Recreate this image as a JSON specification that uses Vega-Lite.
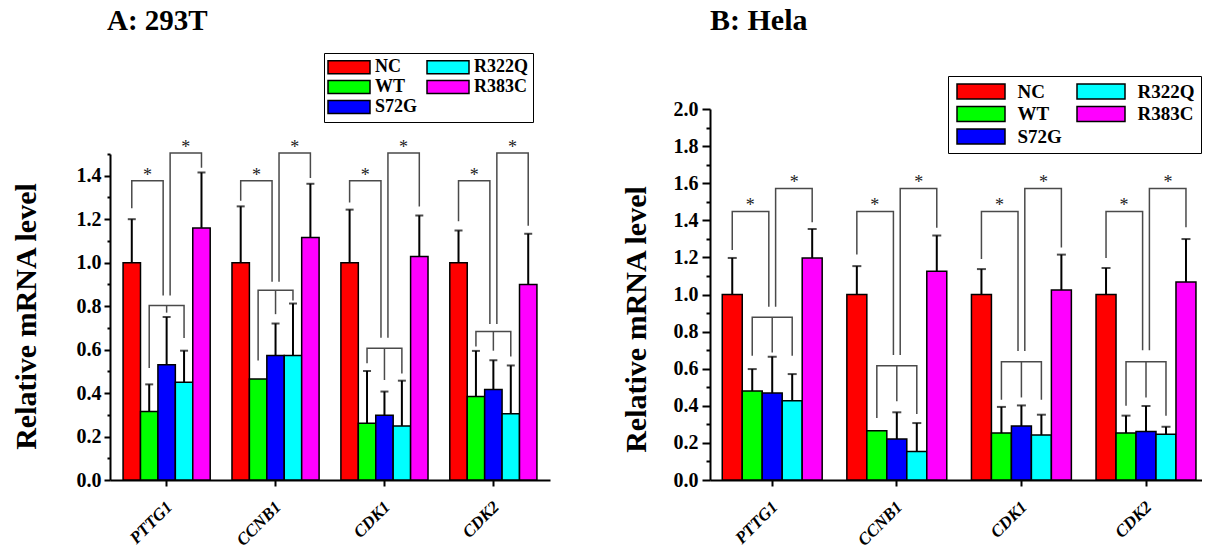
{
"$schema":"https://vega.github.io/schema/vega-lite/v6.json",
"padding":{"left":11,"top":6,"right":0,"bottom":0},
"config":{"view":{"stroke":null},"font":"Liberation Serif",
 "axis":{"domainColor":"black","domainWidth":2,"tickColor":"black","tickWidth":2,"labelColor":"black","labelFont":"Liberation Serif","labelFontWeight":"bold","titleFont":"Liberation Serif","titleFontWeight":"bold","titleColor":"black","grid":false,"labelOverlap":false},
 "legend":{"labelFont":"Liberation Serif","labelFontWeight":"bold","labelColor":"black"}},
"datasets":{
"barsA":[
{"gene":"PTTG1","grp":"NC","v":1.0,"hi":1.2},{"gene":"PTTG1","grp":"WT","v":0.315,"hi":0.44},{"gene":"PTTG1","grp":"S72G","v":0.53,"hi":0.75},{"gene":"PTTG1","grp":"R322Q","v":0.45,"hi":0.595},{"gene":"PTTG1","grp":"R383C","v":1.16,"hi":1.415},
{"gene":"CCNB1","grp":"NC","v":1.0,"hi":1.259},{"gene":"CCNB1","grp":"WT","v":0.465,"hi":null},{"gene":"CCNB1","grp":"S72G","v":0.573,"hi":0.72},{"gene":"CCNB1","grp":"R322Q","v":0.573,"hi":0.812},{"gene":"CCNB1","grp":"R383C","v":1.116,"hi":1.363},
{"gene":"CDK1","grp":"NC","v":1.0,"hi":1.244},{"gene":"CDK1","grp":"WT","v":0.261,"hi":0.502},{"gene":"CDK1","grp":"S72G","v":0.298,"hi":0.407},{"gene":"CDK1","grp":"R322Q","v":0.249,"hi":0.457},{"gene":"CDK1","grp":"R383C","v":1.028,"hi":1.217},
{"gene":"CDK2","grp":"NC","v":1.0,"hi":1.148},{"gene":"CDK2","grp":"WT","v":0.384,"hi":0.594},{"gene":"CDK2","grp":"S72G","v":0.416,"hi":0.551},{"gene":"CDK2","grp":"R322Q","v":0.305,"hi":0.527},{"gene":"CDK2","grp":"R383C","v":0.9,"hi":1.133}],
"barsB":[
{"gene":"PTTG1","grp":"NC","v":1.0,"hi":1.197},{"gene":"PTTG1","grp":"WT","v":0.48,"hi":0.598},{"gene":"PTTG1","grp":"S72G","v":0.469,"hi":0.665},{"gene":"PTTG1","grp":"R322Q","v":0.427,"hi":0.571},{"gene":"PTTG1","grp":"R383C","v":1.197,"hi":1.353},
{"gene":"CCNB1","grp":"NC","v":1.0,"hi":1.153},{"gene":"CCNB1","grp":"WT","v":0.266,"hi":null},{"gene":"CCNB1","grp":"S72G","v":0.221,"hi":0.365},{"gene":"CCNB1","grp":"R322Q","v":0.154,"hi":0.307},{"gene":"CCNB1","grp":"R383C","v":1.125,"hi":1.318},
{"gene":"CDK1","grp":"NC","v":1.0,"hi":1.137},{"gene":"CDK1","grp":"WT","v":0.253,"hi":0.394},{"gene":"CDK1","grp":"S72G","v":0.291,"hi":0.402},{"gene":"CDK1","grp":"R322Q","v":0.243,"hi":0.352},{"gene":"CDK1","grp":"R383C","v":1.024,"hi":1.215},
{"gene":"CDK2","grp":"NC","v":1.0,"hi":1.143},{"gene":"CDK2","grp":"WT","v":0.253,"hi":0.347},{"gene":"CDK2","grp":"S72G","v":0.262,"hi":0.399},{"gene":"CDK2","grp":"R322Q","v":0.246,"hi":0.287},{"gene":"CDK2","grp":"R383C","v":1.067,"hi":1.299}],
"brA":[
{"gene":"PTTG1","id":"b1","o":1,"s":0.5,"v":1.25},{"gene":"PTTG1","id":"b1","o":2,"s":0.5,"v":1.377},{"gene":"PTTG1","id":"b1","o":3,"s":2.3,"v":1.377},{"gene":"PTTG1","id":"b1","o":4,"s":2.3,"v":0.849},
{"gene":"PTTG1","id":"b2","o":1,"s":2.7,"v":0.849},{"gene":"PTTG1","id":"b2","o":2,"s":2.7,"v":1.505},{"gene":"PTTG1","id":"b2","o":3,"s":4.5,"v":1.505},{"gene":"PTTG1","id":"b2","o":4,"s":4.5,"v":1.437},
{"gene":"PTTG1","id":"lw","o":1,"s":1.5,"v":0.515},{"gene":"PTTG1","id":"lw","o":2,"s":1.5,"v":0.803},{"gene":"PTTG1","id":"lw","o":3,"s":3.5,"v":0.803},{"gene":"PTTG1","id":"lw","o":4,"s":3.5,"v":0.653},
{"gene":"PTTG1","id":"md","o":1,"s":2.5,"v":0.803},{"gene":"PTTG1","id":"md","o":2,"s":2.5,"v":0.77},
{"gene":"CCNB1","id":"b1","o":1,"s":0.5,"v":1.285},{"gene":"CCNB1","id":"b1","o":2,"s":0.5,"v":1.377},{"gene":"CCNB1","id":"b1","o":3,"s":2.3,"v":1.377},{"gene":"CCNB1","id":"b1","o":4,"s":2.3,"v":0.912},
{"gene":"CCNB1","id":"b2","o":1,"s":2.7,"v":0.912},{"gene":"CCNB1","id":"b2","o":2,"s":2.7,"v":1.505},{"gene":"CCNB1","id":"b2","o":3,"s":4.5,"v":1.505},{"gene":"CCNB1","id":"b2","o":4,"s":4.5,"v":1.39},
{"gene":"CCNB1","id":"lw","o":1,"s":1.5,"v":0.55},{"gene":"CCNB1","id":"lw","o":2,"s":1.5,"v":0.873},{"gene":"CCNB1","id":"lw","o":3,"s":3.5,"v":0.873},{"gene":"CCNB1","id":"lw","o":4,"s":3.5,"v":0.826},
{"gene":"CCNB1","id":"md","o":1,"s":2.5,"v":0.873},{"gene":"CCNB1","id":"md","o":2,"s":2.5,"v":0.763},
{"gene":"CDK1","id":"b1","o":1,"s":0.5,"v":1.277},{"gene":"CDK1","id":"b1","o":2,"s":0.5,"v":1.377},{"gene":"CDK1","id":"b1","o":3,"s":2.3,"v":1.377},{"gene":"CDK1","id":"b1","o":4,"s":2.3,"v":0.655},
{"gene":"CDK1","id":"b2","o":1,"s":2.7,"v":0.655},{"gene":"CDK1","id":"b2","o":2,"s":2.7,"v":1.505},{"gene":"CDK1","id":"b2","o":3,"s":4.5,"v":1.505},{"gene":"CDK1","id":"b2","o":4,"s":4.5,"v":1.259},
{"gene":"CDK1","id":"lw","o":1,"s":1.5,"v":0.537},{"gene":"CDK1","id":"lw","o":2,"s":1.5,"v":0.606},{"gene":"CDK1","id":"lw","o":3,"s":3.5,"v":0.606},{"gene":"CDK1","id":"lw","o":4,"s":3.5,"v":0.49},
{"gene":"CDK1","id":"md","o":1,"s":2.5,"v":0.606},{"gene":"CDK1","id":"md","o":2,"s":2.5,"v":0.46},
{"gene":"CDK2","id":"b1","o":1,"s":0.5,"v":1.19},{"gene":"CDK2","id":"b1","o":2,"s":0.5,"v":1.377},{"gene":"CDK2","id":"b1","o":3,"s":2.3,"v":1.377},{"gene":"CDK2","id":"b1","o":4,"s":2.3,"v":0.718},
{"gene":"CDK2","id":"b2","o":1,"s":2.7,"v":0.718},{"gene":"CDK2","id":"b2","o":2,"s":2.7,"v":1.505},{"gene":"CDK2","id":"b2","o":3,"s":4.5,"v":1.505},{"gene":"CDK2","id":"b2","o":4,"s":4.5,"v":1.17},
{"gene":"CDK2","id":"lw","o":1,"s":1.5,"v":0.614},{"gene":"CDK2","id":"lw","o":2,"s":1.5,"v":0.683},{"gene":"CDK2","id":"lw","o":3,"s":3.5,"v":0.683},{"gene":"CDK2","id":"lw","o":4,"s":3.5,"v":0.568},
{"gene":"CDK2","id":"md","o":1,"s":2.5,"v":0.683},{"gene":"CDK2","id":"md","o":2,"s":2.5,"v":0.595}],
"brB":[
{"gene":"PTTG1","id":"b1","o":1,"s":0.5,"v":1.24},{"gene":"PTTG1","id":"b1","o":2,"s":0.5,"v":1.448},{"gene":"PTTG1","id":"b1","o":3,"s":2.33,"v":1.448},{"gene":"PTTG1","id":"b1","o":4,"s":2.33,"v":0.934},
{"gene":"PTTG1","id":"b2","o":1,"s":2.67,"v":0.934},{"gene":"PTTG1","id":"b2","o":2,"s":2.67,"v":1.572},{"gene":"PTTG1","id":"b2","o":3,"s":4.5,"v":1.572},{"gene":"PTTG1","id":"b2","o":4,"s":4.5,"v":1.389},
{"gene":"PTTG1","id":"lw","o":1,"s":1.5,"v":0.67},{"gene":"PTTG1","id":"lw","o":2,"s":1.5,"v":0.877},{"gene":"PTTG1","id":"lw","o":3,"s":3.5,"v":0.877},{"gene":"PTTG1","id":"lw","o":4,"s":3.5,"v":0.67},
{"gene":"PTTG1","id":"md","o":1,"s":2.5,"v":0.877},{"gene":"PTTG1","id":"md","o":2,"s":2.5,"v":0.688},
{"gene":"CCNB1","id":"b1","o":1,"s":0.5,"v":1.215},{"gene":"CCNB1","id":"b1","o":2,"s":0.5,"v":1.448},{"gene":"CCNB1","id":"b1","o":3,"s":2.33,"v":1.448},{"gene":"CCNB1","id":"b1","o":4,"s":2.33,"v":0.674},
{"gene":"CCNB1","id":"b2","o":1,"s":2.67,"v":0.674},{"gene":"CCNB1","id":"b2","o":2,"s":2.67,"v":1.572},{"gene":"CCNB1","id":"b2","o":3,"s":4.5,"v":1.572},{"gene":"CCNB1","id":"b2","o":4,"s":4.5,"v":1.36},
{"gene":"CCNB1","id":"lw","o":1,"s":1.5,"v":0.334},{"gene":"CCNB1","id":"lw","o":2,"s":1.5,"v":0.616},{"gene":"CCNB1","id":"lw","o":3,"s":3.5,"v":0.616},{"gene":"CCNB1","id":"lw","o":4,"s":3.5,"v":0.356},
{"gene":"CCNB1","id":"md","o":1,"s":2.5,"v":0.616},{"gene":"CCNB1","id":"md","o":2,"s":2.5,"v":0.424},
{"gene":"CDK1","id":"b1","o":1,"s":0.5,"v":1.191},{"gene":"CDK1","id":"b1","o":2,"s":0.5,"v":1.448},{"gene":"CDK1","id":"b1","o":3,"s":2.33,"v":1.448},{"gene":"CDK1","id":"b1","o":4,"s":2.33,"v":0.695},
{"gene":"CDK1","id":"b2","o":1,"s":2.67,"v":0.695},{"gene":"CDK1","id":"b2","o":2,"s":2.67,"v":1.572},{"gene":"CDK1","id":"b2","o":3,"s":4.5,"v":1.572},{"gene":"CDK1","id":"b2","o":4,"s":4.5,"v":1.254},
{"gene":"CDK1","id":"lw","o":1,"s":1.5,"v":0.433},{"gene":"CDK1","id":"lw","o":2,"s":1.5,"v":0.638},{"gene":"CDK1","id":"lw","o":3,"s":3.5,"v":0.638},{"gene":"CDK1","id":"lw","o":4,"s":3.5,"v":0.433},
{"gene":"CDK1","id":"md","o":1,"s":2.5,"v":0.638},{"gene":"CDK1","id":"md","o":2,"s":2.5,"v":0.445},
{"gene":"CDK2","id":"b1","o":1,"s":0.5,"v":1.197},{"gene":"CDK2","id":"b1","o":2,"s":0.5,"v":1.448},{"gene":"CDK2","id":"b1","o":3,"s":2.33,"v":1.448},{"gene":"CDK2","id":"b1","o":4,"s":2.33,"v":0.70},
{"gene":"CDK2","id":"b2","o":1,"s":2.67,"v":0.70},{"gene":"CDK2","id":"b2","o":2,"s":2.67,"v":1.572},{"gene":"CDK2","id":"b2","o":3,"s":4.5,"v":1.572},{"gene":"CDK2","id":"b2","o":4,"s":4.5,"v":1.362},
{"gene":"CDK2","id":"lw","o":1,"s":1.5,"v":0.40},{"gene":"CDK2","id":"lw","o":2,"s":1.5,"v":0.638},{"gene":"CDK2","id":"lw","o":3,"s":3.5,"v":0.638},{"gene":"CDK2","id":"lw","o":4,"s":3.5,"v":0.347},
{"gene":"CDK2","id":"md","o":1,"s":2.5,"v":0.638},{"gene":"CDK2","id":"md","o":2,"s":2.5,"v":0.445}],
"stA":[{"gene":"PTTG1","s":1.4,"v":1.377},{"gene":"PTTG1","s":3.6,"v":1.505},{"gene":"CCNB1","s":1.4,"v":1.377},{"gene":"CCNB1","s":3.6,"v":1.505},{"gene":"CDK1","s":1.4,"v":1.377},{"gene":"CDK1","s":3.6,"v":1.505},{"gene":"CDK2","s":1.4,"v":1.377},{"gene":"CDK2","s":3.6,"v":1.505}],
"stB":[{"gene":"PTTG1","s":1.4,"v":1.448},{"gene":"PTTG1","s":3.6,"v":1.572},{"gene":"CCNB1","s":1.4,"v":1.448},{"gene":"CCNB1","s":3.6,"v":1.572},{"gene":"CDK1","s":1.4,"v":1.448},{"gene":"CDK1","s":3.6,"v":1.572},{"gene":"CDK2","s":1.4,"v":1.448},{"gene":"CDK2","s":3.6,"v":1.572}]
},
"spacing":71,
"resolve":{"scale":{"x":"independent","y":"independent","color":"independent","fill":"independent"},"legend":{"fill":"independent"},"axis":{"x":"independent","y":"independent"}},
"hconcat":[
{"width":440,"height":371,
 "title":{"text":"A: 293T","anchor":"start","frame":"group","fontSize":29,"fontWeight":"bold","font":"Liberation Serif","color":"black","baseline":"alphabetic","offset":-6.7,"dx":-3},
 "resolve":{"scale":{"xOffset":"independent"}},
 "layer":[
 {"data":{"name":"barsA"},"mark":{"type":"bar","stroke":"black","strokeWidth":1.5},
  "encoding":{
   "x":{"field":"gene","type":"nominal","sort":["PTTG1","CCNB1","CDK1","CDK2"],"scale":{"paddingInner":0.2,"paddingOuter":0.12},
        "axis":{"title":null,"orient":"bottom","labelAngle":-45,"labelAlign":"right","labelBaseline":"middle","labelFontSize":17,"labelFontStyle":"italic","tickSize":6,"labelPadding":18,"labelOffset":3}},
   "xOffset":{"field":"grp","type":"nominal","sort":["NC","WT","S72G","R322Q","R383C"],"scale":{"paddingInner":0,"paddingOuter":0}},
   "y":{"field":"v","type":"quantitative","scale":{"domain":[0,1.5],"range":[371,45],"nice":false},
        "axis":{"orient":"left","values":[0,0.1,0.2,0.3,0.4,0.5,0.6,0.7,0.8,0.9,1.0,1.1,1.2,1.3,1.4,1.5],"tickCount":16,"labelOverlap":false,"format":".1f",
          "labelExpr":"round(datum.value*10) % 2 == 1 ? '' : datum.label",
          "tickSize":{"condition":{"test":"round(datum.value*10) % 2 == 1","value":3},"value":6},
          "labelFontSize":20,"labelPadding":3,"title":"Relative mRNA level","titleFontSize":30,"titleX":-74.5,"titleY":207,"titleBaseline":"alphabetic"}},
   "fill":{"field":"grp","type":"nominal","scale":{"domain":["NC","WT","S72G","R322Q","R383C"],"range":["#ff0000","#00ff00","#0000ff","#00ffff","#ff00ff"]},
     "legend":{"orient":"none","legendX":214,"legendY":-56,"columns":2,"title":null,"symbolType":"M-3.23,-1H3.23V1H-3.23Z","symbolSize":169,"symbolOffset":11,"labelOffset":17,"symbolStrokeColor":"black","symbolStrokeWidth":1.5,"labelFontSize":18,"strokeColor":"black","fillColor":"white","padding":5,"rowPadding":0,"columnPadding":6}}
  }},
 {"data":{"name":"barsA"},"transform":[{"filter":"isValid(datum.hi)"}],"mark":{"type":"rule","color":"black","strokeWidth":2},
  "encoding":{
   "x":{"field":"gene","type":"nominal","sort":["PTTG1","CCNB1","CDK1","CDK2"]},
   "xOffset":{"field":"grp","type":"nominal","sort":["NC","WT","S72G","R322Q","R383C"],"scale":{"paddingInner":0,"paddingOuter":0}},
   "y":{"field":"v","type":"quantitative"},
   "y2":{"field":"hi"}}},
 {"data":{"name":"barsA"},"transform":[{"filter":"isValid(datum.hi)"}],"mark":{"type":"tick","orient":"horizontal","color":"black","size":8,"thickness":2},
  "encoding":{
   "x":{"field":"gene","type":"nominal","sort":["PTTG1","CCNB1","CDK1","CDK2"]},
   "xOffset":{"field":"grp","type":"nominal","sort":["NC","WT","S72G","R322Q","R383C"],"scale":{"paddingInner":0,"paddingOuter":0}},
   "y":{"field":"hi","type":"quantitative"}}},
 {"data":{"name":"brA"},"mark":{"type":"line","color":"#4a4a4a","strokeWidth":1.5},
  "encoding":{
   "x":{"field":"gene","type":"nominal","sort":["PTTG1","CCNB1","CDK1","CDK2"]},
   "xOffset":{"field":"s","type":"quantitative","scale":{"domain":[0,5],"nice":false,"zero":false}},
   "y":{"field":"v","type":"quantitative"},
   "detail":[{"field":"gene"},{"field":"id"}],
   "order":{"field":"o","type":"quantitative"}}},
 {"data":{"name":"stA"},"mark":{"type":"text","text":"*","fontSize":18,"font":"Liberation Serif","color":"#222222","baseline":"alphabetic"},
  "encoding":{
   "x":{"field":"gene","type":"nominal","sort":["PTTG1","CCNB1","CDK1","CDK2"]},
   "xOffset":{"field":"s","type":"quantitative","scale":{"domain":[0,5],"nice":false,"zero":false}},
   "y":{"field":"v","type":"quantitative"}}}
 ]},
{"width":492,"height":371,
 "title":{"text":"B: Hela","anchor":"start","frame":"group","fontSize":30,"fontWeight":"bold","font":"Liberation Serif","color":"black","baseline":"alphabetic","offset":15.3,"dx":0},
 "resolve":{"scale":{"xOffset":"independent"}},
 "layer":[
 {"data":{"name":"barsB"},"mark":{"type":"bar","stroke":"black","strokeWidth":1.5},
  "encoding":{
   "x":{"field":"gene","type":"nominal","sort":["PTTG1","CCNB1","CDK1","CDK2"],"scale":{"paddingInner":0.198,"paddingOuter":0.0734,"align":0.67},
        "axis":{"title":null,"orient":"bottom","labelAngle":-45,"labelAlign":"right","labelBaseline":"middle","labelFontSize":17,"labelFontStyle":"italic","tickSize":6,"labelPadding":18,"labelOffset":3}},
   "xOffset":{"field":"grp","type":"nominal","sort":["NC","WT","S72G","R322Q","R383C"],"scale":{"paddingInner":0,"paddingOuter":0}},
   "y":{"field":"v","type":"quantitative","scale":{"domain":[0,2],"nice":false},
        "axis":{"orient":"left","values":[0,0.1,0.2,0.3,0.4,0.5,0.6,0.7,0.8,0.9,1.0,1.1,1.2,1.3,1.4,1.5,1.6,1.7,1.8,1.9,2.0],"tickCount":21,"labelOverlap":false,"format":".1f",
          "labelExpr":"round(datum.value*10) % 2 == 1 ? '' : datum.label",
          "tickSize":{"condition":{"test":"round(datum.value*10) % 2 == 1","value":4},"value":8},
          "labelFontSize":20,"labelPadding":4,"title":"Relative mRNA level","titleFontSize":30,"titleX":-65,"titleY":210,"titleBaseline":"alphabetic"}},
   "fill":{"field":"grp","type":"nominal","scale":{"domain":["NC","WT","S72G","R322Q","R383C"],"range":["#ff0000","#00ff00","#0000ff","#00ffff","#ff00ff"]},
     "legend":{"orient":"none","legendX":238,"legendY":-33,"columns":2,"title":null,"symbolType":"M-3.2,-1H3.2V1H-3.2Z","symbolSize":225,"symbolOffset":17.5,"labelOffset":27,"symbolStrokeColor":"black","symbolStrokeWidth":1.5,"labelFontSize":19,"strokeColor":"black","fillColor":"white","padding":6,"rowPadding":1.5,"columnPadding":12}}
  }},
 {"data":{"name":"barsB"},"transform":[{"filter":"isValid(datum.hi)"}],"mark":{"type":"rule","color":"black","strokeWidth":2},
  "encoding":{
   "x":{"field":"gene","type":"nominal","sort":["PTTG1","CCNB1","CDK1","CDK2"]},
   "xOffset":{"field":"grp","type":"nominal","sort":["NC","WT","S72G","R322Q","R383C"],"scale":{"paddingInner":0,"paddingOuter":0}},
   "y":{"field":"v","type":"quantitative"},
   "y2":{"field":"hi"}}},
 {"data":{"name":"barsB"},"transform":[{"filter":"isValid(datum.hi)"}],"mark":{"type":"tick","orient":"horizontal","color":"black","size":9,"thickness":2},
  "encoding":{
   "x":{"field":"gene","type":"nominal","sort":["PTTG1","CCNB1","CDK1","CDK2"]},
   "xOffset":{"field":"grp","type":"nominal","sort":["NC","WT","S72G","R322Q","R383C"],"scale":{"paddingInner":0,"paddingOuter":0}},
   "y":{"field":"hi","type":"quantitative"}}},
 {"data":{"name":"brB"},"mark":{"type":"line","color":"#4a4a4a","strokeWidth":1.5},
  "encoding":{
   "x":{"field":"gene","type":"nominal","sort":["PTTG1","CCNB1","CDK1","CDK2"]},
   "xOffset":{"field":"s","type":"quantitative","scale":{"domain":[0,5],"nice":false,"zero":false}},
   "y":{"field":"v","type":"quantitative"},
   "detail":[{"field":"gene"},{"field":"id"}],
   "order":{"field":"o","type":"quantitative"}}},
 {"data":{"name":"stB"},"mark":{"type":"text","text":"*","fontSize":18,"font":"Liberation Serif","color":"#222222","baseline":"alphabetic"},
  "encoding":{
   "x":{"field":"gene","type":"nominal","sort":["PTTG1","CCNB1","CDK1","CDK2"]},
   "xOffset":{"field":"s","type":"quantitative","scale":{"domain":[0,5],"nice":false,"zero":false}},
   "y":{"field":"v","type":"quantitative"}}}
 ]}
]
}
